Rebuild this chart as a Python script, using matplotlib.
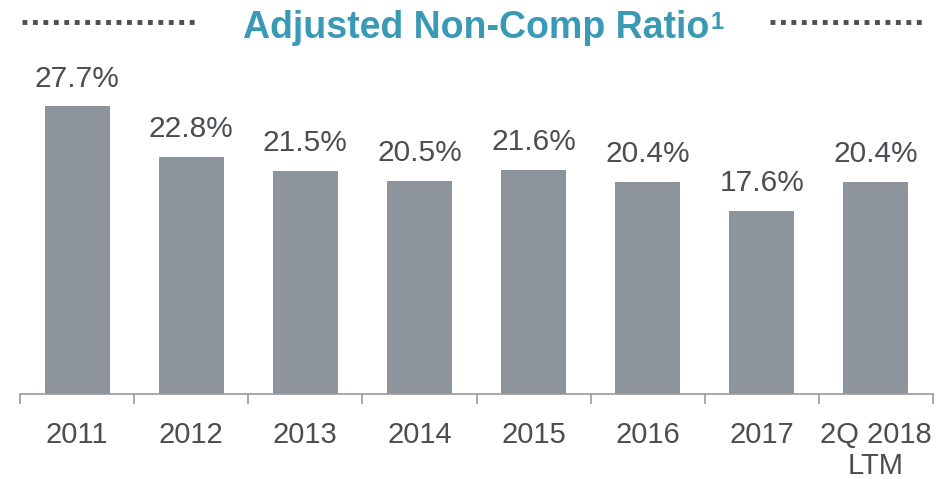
import matplotlib.pyplot as plt
from matplotlib.lines import Line2D

# data
categories = ["2011", "2012", "2013", "2014", "2015", "2016", "2017", "2Q 2018\nLTM"]
ratios = [27.7, 22.8, 21.5, 20.5, 21.6, 20.4, 17.6, 20.4]
value_labels = ["27.7%", "22.8%", "21.5%", "20.5%", "21.6%", "20.4%", "17.6%", "20.4%"]

bar_color = "#8d949b"
text_color = "#4a4d52"
title_color = "#3a9ab5"
dot_color = "#4a4e55"

plt.rcParams["font.family"] = ["Liberation Sans", "DejaVu Sans"]

fig = plt.figure(figsize=(9.49, 4.79), dpi=100)
W, H = 949, 479
# axes: x from 20 to 933 px, baseline at y=394 px
ax = fig.add_axes([20 / W, (H - 394) / H, 913 / W, 364 / H])

x = list(range(len(categories)))
ax.bar(x, ratios, width=0.57, color=bar_color, zorder=2)
ax.set_xlim(-0.5, len(categories) - 0.5)
ax.set_ylim(0, 364 / 10.38)

for xi, v, lab in zip(x, ratios, value_labels):
    ax.annotate(lab, (xi, v), xytext=(0, 10), textcoords="offset points",
                ha="center", va="bottom", fontsize=21.5, color=text_color)

for s in ["top", "right", "left"]:
    ax.spines[s].set_visible(False)
ax.spines["bottom"].set_color("#9a9a9a")
ax.spines["bottom"].set_linewidth(1.2)
ax.set_yticks([])

# ticks at category boundaries, labels centered
ax.set_xticks([i - 0.5 for i in range(len(categories) + 1)])
ax.set_xticklabels([])
ax.tick_params(axis="x", direction="out", length=7, width=1.2, color="#9a9a9a")
for xi, cat in zip(x, categories):
    ax.text(xi, -0.075, cat, transform=ax.get_xaxis_transform(), ha="center",
            va="top", fontsize=21, color=text_color, linespacing=1.1)

# title with dotted rules
title = fig.text(476 / W, 1 - 38 / H, "Adjusted Non-Comp Ratio",
                 ha="center", va="baseline", fontsize=27, fontweight="bold",
                 color=title_color)
fig.canvas.draw()
bb = title.get_window_extent()
fig.text((bb.x1 + 1) / W, 1 - 11 / H, "1", ha="left", va="top", fontsize=17,
         fontweight="bold", color=title_color)

for x0, x1 in [(22, 198), (770, 924)]:
    fig.add_artist(Line2D([x0 / W, x1 / W], [1 - 22 / H, 1 - 22 / H],
                          transform=fig.transFigure, color=dot_color, linewidth=3.5,
                          linestyle=(0, (1, 1.15)), dash_capstyle="butt"))

fig.savefig("out.png", dpi=100)
